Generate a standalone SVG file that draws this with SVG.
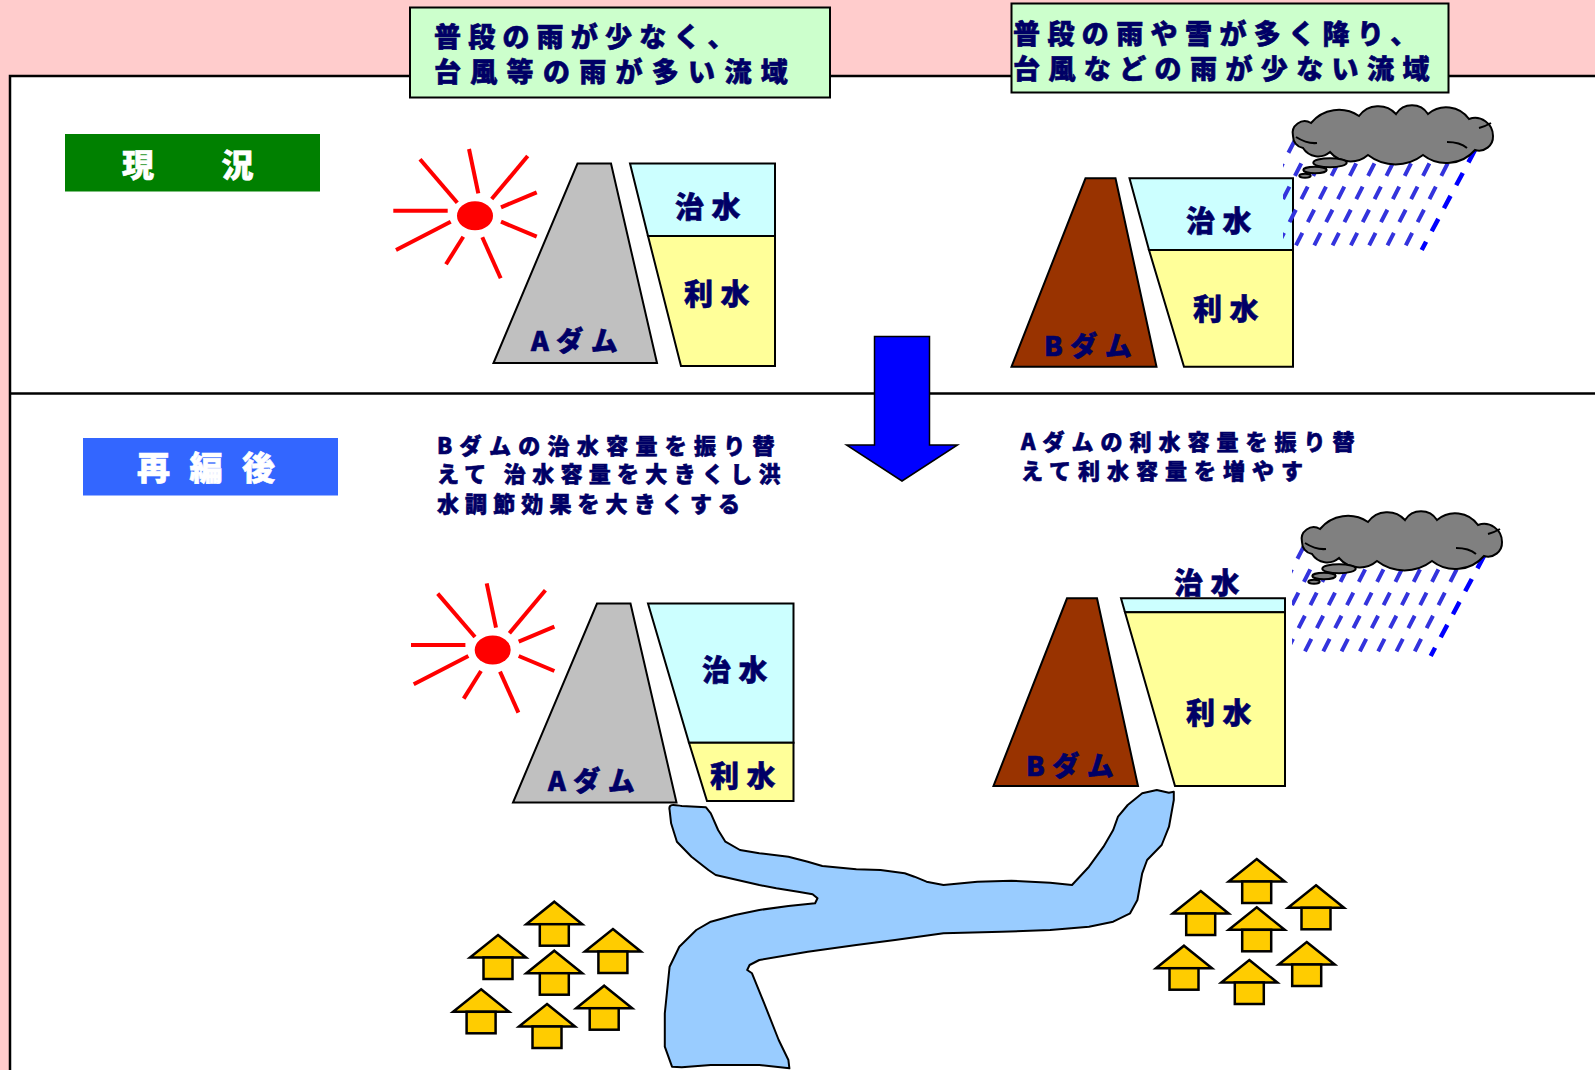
<svg xmlns="http://www.w3.org/2000/svg" xmlns:xlink="http://www.w3.org/1999/xlink" width="1595" height="1070" viewBox="0 0 1595 1070">
  <style>
    .ink{font-family:"Noto Sans CJK JP","Noto Sans",sans-serif;font-weight:900;fill:#000066;stroke:#000066;stroke-width:0.6}
    .white{font-family:"Noto Sans CJK JP","Noto Sans",sans-serif;font-weight:900;fill:#FFFFFF;stroke:#FFFFFF;stroke-width:0.6}
    .note-box{fill:#CCFFCC;stroke:#000;stroke-width:2}
    .edge{stroke:#000;stroke-width:2;stroke-linejoin:miter}
    .flood{fill:#CCFFFF}
    .supply{fill:#FFFF99}
    .dam-a{fill:#C0C0C0}
    .dam-b{fill:#993300}
    .ray{stroke:#FF0000;stroke-width:4}
    .cloud{fill:#808080;stroke:#000;stroke-width:2}
    .rain{fill:none;stroke:#3333DD;stroke-width:4;stroke-dasharray:14 12}
    .rain-edge{fill:none;stroke:#0000FF;stroke-width:4.5;stroke-dasharray:14 12}
    .house{fill:#FFCC00;stroke:#000;stroke-width:2.5}
    .river{fill:#99CCFF;stroke:#000;stroke-width:2;stroke-linejoin:round}
  </style>
  <defs>
    <!-- sun: red disc with rays -->
    <g id="sun">
      <ellipse cx="475" cy="215.7" rx="18" ry="14.5" fill="#FF0000"/>
      <g class="ray">
        <line x1="393.3" y1="210.7" x2="447.7" y2="210.7"/>
        <line x1="420" y1="159.3" x2="457.3" y2="202.7"/>
        <line x1="469" y1="149" x2="478.3" y2="193.3"/>
        <line x1="527.7" y1="156" x2="491.7" y2="199"/>
        <line x1="536.7" y1="192.3" x2="501" y2="207.3"/>
        <line x1="501" y1="221.7" x2="536.7" y2="236.7"/>
        <line x1="482.3" y1="237.3" x2="500.7" y2="278.3"/>
        <line x1="463.3" y1="236.7" x2="446" y2="264.3"/>
        <line x1="450.7" y1="221.7" x2="396" y2="250"/>
      </g>
    </g>
    <clipPath id="rain-clip" clipPathUnits="userSpaceOnUse">
      <rect x="1283" y="138" width="220" height="115"/>
    </clipPath>
    <!-- rain cloud with slanted dashed showers -->
    <g id="shower">
      <g clip-path="url(#rain-clip)">
        <path class="rain" d="M1459.5,140.3 L1403.4,250 M1441.2,140.3 L1385.1,250 M1422.9,140.3 L1366.8,250 M1404.6,140.3 L1348.5,250 M1386.3,140.3 L1330.2,250 M1368,140.3 L1311.9,250 M1349.7,140.3 L1293.6,250 M1331.4,140.3 L1275.3,250 M1313.1,140.3 L1257,250 M1294.8,140.3 L1238.7,250"/>
        <path class="rain-edge" d="M1475,150 L1421.7,250"/>
      </g>
      <g transform="translate(1293,106)">
        <path class="cloud" d="M0,30 A12,12 0 0 1 18,17 A36,36 0 0 1 66,10 A24,24 0 0 1 103,8 A19,19 0 0 1 135,8 A28,28 0 0 1 176,13 A18,18 0 0 1 200,30 A14,14 0 0 1 182,44 A38,38 0 0 1 130,49 A45,45 0 0 1 75,49 A27,27 0 0 1 37,46 A18,18 0 0 1 10,42 A12,12 0 0 1 0,30 Z"/>
        <path d="M3,31 Q14,38 24,37 M154,36 Q167,36 174,42 M186,22 Q193,20 198,17" fill="none" stroke="#000" stroke-width="2"/>
      </g>
      <ellipse class="cloud" cx="1330" cy="162.7" rx="16.7" ry="4.5"/>
      <ellipse class="cloud" cx="1315" cy="170" rx="11.7" ry="3.2"/>
      <ellipse class="cloud" cx="1305" cy="175.7" rx="5.7" ry="2"/>
    </g>
    <!-- house icon, apex at origin -->
    <g id="house" class="house">
      <path d="M0,0 L28,22.5 L-28,22.5 Z"/>
      <rect x="-14.5" y="22.5" width="29" height="21.5"/>
    </g>
  </defs>

  <!-- page background and panel -->
  <rect x="0" y="0" width="1595" height="1070" fill="#FFCCCC"/>
  <rect x="10" y="76" width="1600" height="1010" fill="#FFFFFF" stroke="#000" stroke-width="2.5"/>
  <line x1="10" y1="393.5" x2="1595" y2="393.5" stroke="#000" stroke-width="2.5"/>

  <!-- section labels -->
  <g id="label-current">
    <rect x="65" y="134" width="255" height="57.5" fill="#008000"/>
    <text class="white" x="122" y="177" font-size="32" letter-spacing="1.2">現　　況</text>
  </g>
  <g id="label-after">
    <rect x="83" y="438" width="255" height="57.5" fill="#3366FF"/>
    <text class="white" x="137" y="480" font-size="33" letter-spacing="19.5">再編後</text>
  </g>

  <!-- basin descriptions -->
  <g id="note-basin-a">
    <rect class="note-box" x="410" y="7.5" width="420" height="90"/>
    <text class="ink" font-size="27"><tspan x="434" y="47" letter-spacing="7.2">普段の雨が少なく、</tspan><tspan x="434" y="82" letter-spacing="9.3">台風等の雨が多い流域</tspan></text>
  </g>
  <g id="note-basin-b">
    <rect class="note-box" x="1011.5" y="3.5" width="437" height="89"/>
    <text class="ink" font-size="27"><tspan x="1013" y="43.5" letter-spacing="7.4">普段の雨や雪が多く降り、</tspan><tspan x="1013" y="78.5" letter-spacing="8.4">台風などの雨が少ない流域</tspan></text>
  </g>

  <!-- present situation -->
  <g id="sun-a-now"><use xlink:href="#sun"/></g>
  <g id="dam-a-now">
    <polygon class="dam-a edge" points="577.5,163.5 611,163.5 657,363 493.5,363"/>
    <text class="ink" x="531" y="351" font-size="27" letter-spacing="7.5">Aダム</text>
  </g>
  <g id="reservoir-a-now">
    <polygon class="flood edge" points="630,163.5 775,163.5 775,236 648,236"/>
    <polygon class="supply edge" points="648,236 775,236 775,366 681,366"/>
    <text class="ink" x="675" y="218" font-size="29" letter-spacing="7.5">治水</text>
    <text class="ink" x="684" y="305" font-size="29" letter-spacing="7.5">利水</text>
  </g>
  <g id="dam-b-now">
    <polygon class="dam-b edge" points="1085.5,178.3 1115.5,178.3 1156.5,366.7 1011.5,366.7"/>
    <text class="ink" x="1044" y="356" font-size="27" letter-spacing="7.5">Bダム</text>
  </g>
  <g id="reservoir-b-now">
    <polygon class="flood edge" points="1129.5,178.3 1293,178.3 1293,250 1149,250"/>
    <polygon class="supply edge" points="1149,250 1293,250 1293,366.7 1184,366.7"/>
    <text class="ink" x="1186" y="232" font-size="29" letter-spacing="7.5">治水</text>
    <text class="ink" x="1193" y="320" font-size="29" letter-spacing="7.5">利水</text>
  </g>
  <g id="rain-b-now"><use xlink:href="#shower"/></g>

  <!-- reorganisation explanations -->
  <g id="note-dam-a">
    <text class="ink" font-size="22"><tspan x="437" y="453.5" letter-spacing="7.3">Bダムの治水容量を振り替</tspan><tspan x="437" y="482" letter-spacing="6.3">えて 治水容量を大きくし洪</tspan><tspan x="437" y="511.5" letter-spacing="6.1">水調節効果を大きくする</tspan></text>
  </g>
  <g id="note-dam-b">
    <text class="ink" font-size="22" letter-spacing="7"><tspan x="1021" y="450">Aダムの利水容量を振り替</tspan><tspan x="1021" y="478.5">えて利水容量を増やす</tspan></text>
  </g>

  <!-- river linking both dams -->
  <g id="river">
    <path class="river" d="M669.6,810 C668,803 675,805 681.8,806 L706,807.3 L710.8,813.3 L718.1,830 L725.4,841.7 L740,850 L759.3,853.3 L788.4,856.7 L807.8,861.7 L822.3,866 L856.3,869.3 L880.5,870 L904.7,873.3 L914.4,876.7 L926.5,881.7 L943.5,885 L977.4,881.7 L1011.4,880.7 L1050.2,882.7 L1072,885 L1089,866.7 L1103.5,846.7 L1113.2,830 L1118,816.7 L1127.7,805 L1142.2,793.3 L1156.8,790 L1168.9,792.7 L1173.8,791.7 L1173.8,800 L1169,826.7 L1161.7,845 L1147.1,860 L1142.2,873.3 L1137.4,900 L1130.1,913.3 L1113.2,921.7 L1089,926.7 L1050.2,930 L1001.7,931.7 L943.5,933.3 L895,940 L856.3,945 L807.8,951.7 L759.3,960 L749.6,965 L747.2,970 L752,973.3 L764.2,1003.3 L778.7,1040 L788.4,1060 L789.4,1068.3 L759.3,1065 L710.8,1065 L681.8,1067.3 L672,1066.7 L664.8,1046.7 L664.8,1013.3 L669.6,966.7 L679.3,946.7 L696.3,930 L710.8,921.7 L735.1,915 L759.3,910 L788.4,906 L815.1,903.3 L817.5,898.3 L812.6,894.3 L798.1,891.7 L776.3,888.3 L759.3,885 L715.7,875 L708.4,870 L691.5,856.7 L676.9,841.7 L671.1,823.3 Z"/>
  </g>

  <!-- after reorganisation -->
  <g id="sun-a-after"><use xlink:href="#sun" transform="translate(17.7,434.3)"/></g>
  <g id="dam-a-after">
    <polygon class="dam-a edge" points="597,603.5 630.5,603.5 676.5,802.5 513,802.5"/>
    <text class="ink" x="548" y="791" font-size="27" letter-spacing="7.5">Aダム</text>
  </g>
  <g id="reservoir-a-after">
    <polygon class="flood edge" points="648,603.5 793.5,603.5 793.5,742.7 689,742.7"/>
    <polygon class="supply edge" points="689,742.7 793.5,742.7 793.5,801 707,801"/>
    <text class="ink" x="702" y="681" font-size="29" letter-spacing="7.5">治水</text>
    <text class="ink" x="710" y="787" font-size="29" letter-spacing="7.5">利水</text>
  </g>
  <g id="dam-b-after">
    <polygon class="dam-b edge" points="1067,598.3 1097,598.3 1138,786 993.5,786"/>
    <text class="ink" x="1026" y="776" font-size="27" letter-spacing="7.5">Bダム</text>
  </g>
  <g id="reservoir-b-after">
    <polygon class="flood edge" points="1121,598.3 1285,598.3 1285,612.3 1125,612.3"/>
    <polygon class="supply edge" points="1125,612.3 1285,612.3 1285,786 1175,786"/>
    <text class="ink" x="1174" y="593.5" font-size="29" letter-spacing="7.5">治水</text>
    <text class="ink" x="1186" y="723.5" font-size="29" letter-spacing="7.5">利水</text>
  </g>
  <g id="rain-b-after"><use xlink:href="#shower" transform="translate(9,406)"/></g>

  <!-- villages downstream -->
  <g id="village-a">
    <use xlink:href="#house" x="554.3" y="901.7"/>
    <use xlink:href="#house" x="498" y="935"/>
    <use xlink:href="#house" x="612.9" y="929"/>
    <use xlink:href="#house" x="554.3" y="950.7"/>
    <use xlink:href="#house" x="481.1" y="989.3"/>
    <use xlink:href="#house" x="604.2" y="985.7"/>
    <use xlink:href="#house" x="547" y="1004"/>
  </g>
  <g id="village-b">
    <use xlink:href="#house" x="1256.7" y="859"/>
    <use xlink:href="#house" x="1200.7" y="891"/>
    <use xlink:href="#house" x="1316" y="885.3"/>
    <use xlink:href="#house" x="1256.7" y="907.3"/>
    <use xlink:href="#house" x="1184" y="945.7"/>
    <use xlink:href="#house" x="1306.7" y="942"/>
    <use xlink:href="#house" x="1249.3" y="960"/>
  </g>

  <!-- transition arrow between the two states -->
  <g id="connectors">
    <path d="M874.5,336.5 H929.5 V445 H957.5 L902,481 L846.5,445 H874.5 Z" fill="#0000FF" stroke="#000" stroke-width="1.5"/>
  </g>
</svg>
